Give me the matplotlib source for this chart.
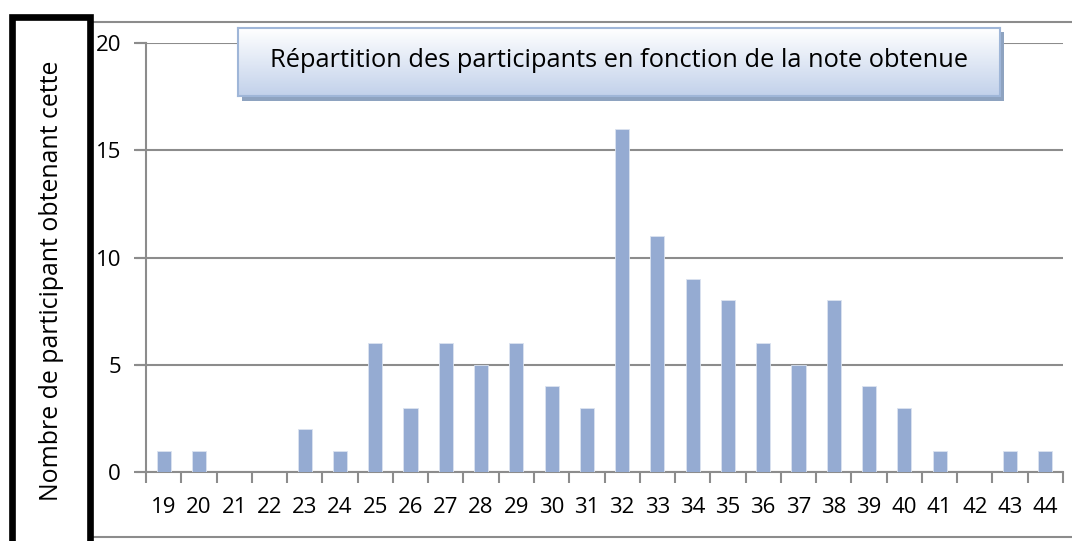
import numpy as np
import matplotlib.pyplot as plt
from matplotlib.patches import Rectangle

# notes obtenues et nombre de participants
notes = [19, 20, 21, 22, 23, 24, 25, 26, 27, 28, 29, 30, 31, 32,
         33, 34, 35, 36, 37, 38, 39, 40, 41, 42, 43, 44]
participants = [1, 1, 0, 0, 2, 1, 6, 3, 6, 5, 6, 4, 3, 16,
                11, 9, 8, 6, 5, 8, 4, 3, 1, 0, 1, 1]
y_ticks = [0, 5, 10, 15, 20]
title = "Répartition des participants en fonction de la note obtenue"
ylabel = "Nombre de participant obtenant cette"

W, H = 1072, 541
plt.rcParams['font.family'] = ['Open Sans', 'DejaVu Sans']

fig = plt.figure(figsize=(W / 100, H / 100), dpi=100)


def box(x0, y0, x1, y1):
    # pixel box (top-left origin) -> figure fraction [l, b, w, h]
    return [x0 / W, 1 - y1 / H, (x1 - x0) / W, (y1 - y0) / H]


# cadre du graphique
l, b, w, h = box(90, 22, 1080, 537)
fig.patches.append(Rectangle((l, b), w, h, transform=fig.transFigure,
                             fill=False, edgecolor='#8c8c8c', lw=1.5, zorder=0))

ax = fig.add_axes(box(146, 43, 1063, 472))
x = np.arange(len(notes))
ax.bar(x, participants, width=0.4, color='#95abd2', edgecolor='#dbe3f0',
       linewidth=0.6, zorder=3)
ax.set_xlim(-0.5, len(notes) - 0.5)
ax.set_ylim(0, 20)
ax.set_yticks(y_ticks)
ax.set_xticks(x)
ax.set_xticklabels([str(n) for n in notes])
ax.set_xticks(np.arange(len(notes) + 1) - 0.5, minor=True)
ax.tick_params(axis='x', which='major', length=0, pad=18, labelsize=16)
ax.tick_params(axis='x', which='minor', length=8, width=1.5, color='#8c8c8c',
               direction='out')
ax.tick_params(axis='y', length=9, width=1.5, color='#8c8c8c', pad=9,
               labelsize=16)
ax.yaxis.grid(True, color='#8c8c8c', lw=1.5, zorder=1)
for s in ['top', 'right']:
    ax.spines[s].set_visible(False)
for s in ['left', 'bottom']:
    ax.spines[s].set_color('#8c8c8c')
    ax.spines[s].set_linewidth(1.5)
# gridlines extend to the tick marks on the left
for yv in y_ticks:
    ax.plot([-0.5 - 9 / 35.3, -0.5], [yv, yv], color='#8c8c8c', lw=1.5,
            clip_on=False, zorder=1)

# boîte du titre avec ombre et dégradé
sl, sb, sw, sh = box(242, 32, 1004, 101)
fig.patches.append(Rectangle((sl, sb), sw, sh, transform=fig.transFigure,
                             facecolor='#8ea3c0', edgecolor='none', zorder=5))
tax = fig.add_axes(box(238, 28, 1000, 96), zorder=6)
grad = np.linspace(0, 1, 100).reshape(-1, 1)
top = np.array([1.0, 1.0, 1.0])
bot = np.array([0.76, 0.82, 0.92])
img = top + (bot - top) * grad[..., None]
tax.imshow(img, aspect='auto', extent=[0, 1, 0, 1])
tax.set_xticks([])
tax.set_yticks([])
for s in tax.spines.values():
    s.set_color('#9fb6d8')
    s.set_linewidth(1.5)
tax.text(0.5, 0.52, title, ha='center', va='center', fontsize=18.3,
         color='black', transform=tax.transAxes)

# boîte du titre de l'axe vertical
l, b, w, h = box(11.5, 16.5, 90, 570)
fig.patches.append(Rectangle((l, b), w, h, transform=fig.transFigure,
                             facecolor='white', edgecolor='black', lw=4.8,
                             zorder=4))
fig.text(52 / W, 1 - 281 / H, ylabel, rotation=90, ha='center', va='center',
         fontsize=17.9, zorder=5)

fig.savefig('out.png', dpi=100)
